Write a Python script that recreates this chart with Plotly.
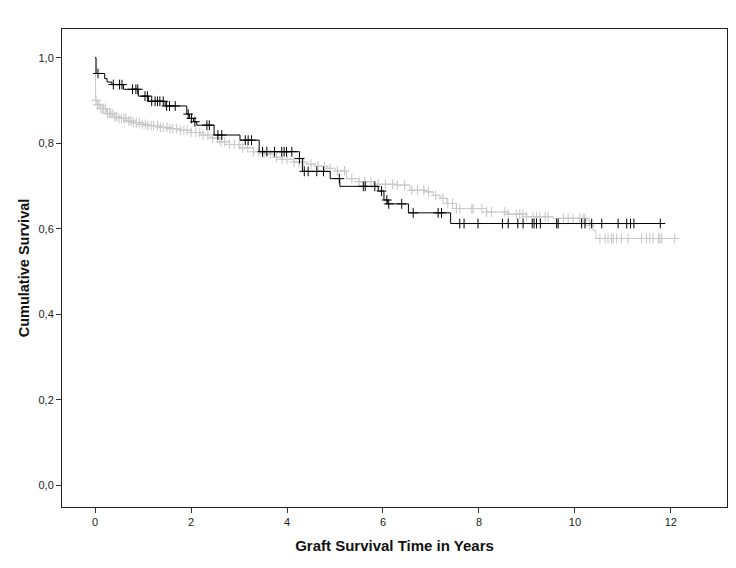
import numpy as np
import plotly.graph_objects as go

# Black group: step times and survival after each step
black_t = [0, 0.02, 0.2, 0.25, 0.35, 0.59, 0.9, 1.11, 1.46, 1.91, 1.97, 2.05, 2.12, 2.48,
           3.02, 3.42, 4.26, 4.32, 4.9, 5.1, 5.9, 6.02, 6.1, 6.53, 7.41]
black_s = [1.0, 0.963, 0.951, 0.943, 0.937, 0.926, 0.91, 0.898, 0.887, 0.868, 0.858, 0.85, 0.842, 0.819,
           0.807, 0.780, 0.764, 0.734, 0.717, 0.699, 0.688, 0.667, 0.658, 0.637, 0.612]
black_end = 11.78
black_cens = [0.06, 0.38, 0.51, 0.56, 0.78, 0.85, 0.89, 1.04, 1.09, 1.18, 1.25, 1.30, 1.35, 1.42,
              1.49, 1.55, 1.67, 1.94, 2.01, 2.08, 2.33, 2.38, 2.56, 2.64, 3.13, 3.19, 3.26,
              3.49, 3.58, 3.74, 3.89, 3.94, 3.99, 4.1, 4.26, 4.36, 4.44, 4.62, 4.76, 5.09,
              5.59, 5.63, 5.83, 5.97, 6.08, 6.12, 6.39, 6.63, 7.15, 7.22,
              7.60, 7.69, 7.98, 8.49, 8.61, 8.81, 8.92, 9.11, 9.15, 9.20, 9.28, 9.62, 9.65,
              10.14, 10.21, 10.35, 10.56, 10.90, 11.08, 11.16, 11.23, 11.78]

# Grey group
grey_t = [0, 0.01, 0.05, 0.11, 0.24, 0.38, 0.5, 0.66, 0.8, 0.94, 1.1, 1.35, 1.55, 1.77, 2.0,
          2.19, 2.4, 2.6, 2.8, 3.02, 3.3, 3.5, 3.72, 3.9, 4.13, 4.41, 4.6, 4.83, 5.0, 5.24,
          5.5, 5.8, 6.28, 6.56, 6.91, 7.05, 7.19, 7.33, 7.53, 8.16, 8.6, 8.99, 9.55, 10.24,
          10.31, 10.38, 10.44]
grey_s = [1.0, 0.90, 0.89, 0.881, 0.869, 0.862, 0.858, 0.852, 0.848, 0.844, 0.841, 0.837, 0.834,
          0.830, 0.825, 0.819, 0.812, 0.803, 0.797, 0.789, 0.780, 0.775, 0.767, 0.762, 0.756,
          0.751, 0.746, 0.741, 0.735, 0.717, 0.71, 0.704, 0.702, 0.69, 0.686, 0.678, 0.671,
          0.659, 0.647, 0.639, 0.634, 0.628, 0.624, 0.62, 0.608, 0.596, 0.577]
grey_end = 12.08
grey_cens = [0.02, 0.05, 0.08, 0.12, 0.15, 0.18, 0.22, 0.26, 0.3, 0.33, 0.37, 0.41, 0.45, 0.5,
             0.55, 0.6, 0.64, 0.7, 0.75, 0.8, 0.86, 0.92, 0.98, 1.05, 1.1, 1.17, 1.22, 1.3,
             1.36, 1.42, 1.5, 1.56, 1.62, 1.7, 1.78, 1.85, 1.92, 2.0, 2.1, 2.18, 2.25, 2.35,
             2.45, 2.55, 2.62, 2.7, 2.8, 2.9, 3.0, 3.08, 3.18, 3.3, 3.4, 3.52, 3.65, 3.78, 3.9,
             4.0, 4.15, 4.25, 4.35, 4.5, 4.65, 4.78, 4.9, 5.05, 5.2, 5.35, 5.5, 5.62, 5.75,
             5.9, 6.05, 6.2, 6.3, 6.45, 6.6, 6.72, 6.85, 6.95, 7.1, 7.25, 7.35, 7.45,
             7.53, 7.60, 7.85, 7.88, 8.06, 8.16, 8.26, 8.54, 8.61, 8.78, 8.85, 8.92, 8.99,
             9.13, 9.2, 9.27, 9.38, 9.44, 9.76, 9.86, 9.96, 10.1, 10.17, 10.21, 10.31,
             10.52, 10.63, 10.69, 10.76, 10.8, 10.87, 10.97, 11.11, 11.39, 11.49, 11.56,
             11.63, 11.74, 11.77, 11.81, 12.08]

y_tickvals = [0.0, 0.2, 0.4, 0.6, 0.8, 1.0]
y_ticktext = ["0,0", "0,2", "0,4", "0,6", "0,8", "1,0"]
x_tickvals = [0, 2, 4, 6, 8, 10, 12]


def surv_at(ts, ss, c):
    idx = np.searchsorted(np.array(ts), np.array(c), side="right") - 1
    return np.array(ss)[idx]


fig = go.Figure()

GREY = "#c9c9c9"
fig.add_trace(go.Scatter(x=grey_t + [grey_end], y=grey_s + [grey_s[-1]], mode="lines",
                         line=dict(color=GREY, width=1, shape="hv"), showlegend=False))
fig.add_trace(go.Scatter(x=grey_cens, y=surv_at(grey_t, grey_s, grey_cens), mode="markers",
                         marker=dict(symbol="cross-thin", size=7, line=dict(color=GREY, width=1.1)),
                         showlegend=False))

fig.add_trace(go.Scatter(x=black_t + [black_end], y=black_s + [black_s[-1]], mode="lines",
                         line=dict(color="black", width=1, shape="hv"), showlegend=False))
fig.add_trace(go.Scatter(x=black_cens, y=surv_at(black_t, black_s, black_cens), mode="markers",
                         marker=dict(symbol="cross-thin", size=7, line=dict(color="black", width=1)),
                         showlegend=False))

fig.update_layout(
    width=736, height=568,
    margin=dict(l=54, r=17, t=21, b=69),
    paper_bgcolor="white", plot_bgcolor="white",
    font=dict(family="Liberation Sans, Arial, sans-serif", color="#222222", size=11),
    xaxis=dict(range=[-0.69, 13.17], tickvals=x_tickvals, ticks="outside", ticklen=5,
               tickcolor="#333", showgrid=False, zeroline=False, showline=True, mirror=True,
               linecolor="#222", linewidth=1,
               title=dict(text="<b>Graft Survival Time in Years</b>", font=dict(size=15, color="#111"),
                          standoff=13)),
    yaxis=dict(range=[-0.051, 1.067], tickvals=y_tickvals, ticktext=y_ticktext, ticks="outside",
               ticklen=5, tickcolor="#333", showgrid=False, zeroline=False, showline=True, mirror=True,
               linecolor="#222", linewidth=1,
               title=dict(text="<b>Cumulative Survival</b>", font=dict(size=14.5, color="#111"),
                          standoff=5)),
)

fig.write_html("out.html")
